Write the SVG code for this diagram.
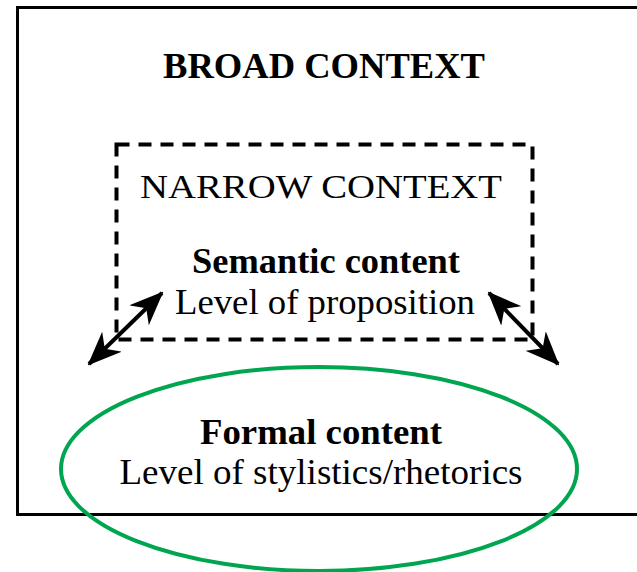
<svg xmlns="http://www.w3.org/2000/svg" width="637" height="572" viewBox="0 0 637 572">
<style>
.t{font-family:"Liberation Serif","Times New Roman",serif;fill:#000;text-anchor:middle}
.b{font-weight:bold}
.ln{stroke:#000;stroke-width:4;fill:none}
</style>
<defs>
<marker id="ah" viewBox="0 0 34 28" refX="32" refY="14" markerWidth="34" markerHeight="28" markerUnits="userSpaceOnUse" orient="auto-start-reverse">
<path d="M0,0 L34,14 L0,28 L10,14 Z" fill="#000"/>
</marker>
</defs>
<rect width="637" height="572" fill="#fff"/>
<g id="broad">
<rect x="17.5" y="7.5" width="640" height="507" fill="none" stroke="#000" stroke-width="3"/>
<text class="t b" x="324" y="78" font-size="35" textLength="322" lengthAdjust="spacingAndGlyphs">BROAD CONTEXT</text>
</g>
<g id="narrow">
<rect x="116.5" y="144.5" width="416" height="195" fill="none" stroke="#000" stroke-width="4" stroke-dasharray="13,9"/>
<text class="t" x="321" y="198" font-size="33" textLength="362" lengthAdjust="spacingAndGlyphs">NARROW CONTEXT</text>
<text class="t b" x="326" y="273" font-size="35" textLength="268" lengthAdjust="spacingAndGlyphs">Semantic content</text>
<text class="t" x="325" y="314" font-size="36" textLength="300" lengthAdjust="spacingAndGlyphs">Level of proposition</text>
</g>
<g id="formal">
<ellipse cx="319" cy="469" rx="258" ry="102" fill="none" stroke="#00a54f" stroke-width="4"/>
<text class="t b" x="321" y="444" font-size="35" textLength="242" lengthAdjust="spacingAndGlyphs">Formal content</text>
<text class="t" x="321" y="484" font-size="36" textLength="403" lengthAdjust="spacingAndGlyphs">Level of stylistics/rhetorics</text>
</g>
<g id="connectors">
<line class="ln" x1="89" y1="364" x2="162" y2="293" marker-start="url(#ah)" marker-end="url(#ah)"/>
<line class="ln" x1="489" y1="293" x2="558" y2="364" marker-start="url(#ah)" marker-end="url(#ah)"/>
</g>
</svg>
